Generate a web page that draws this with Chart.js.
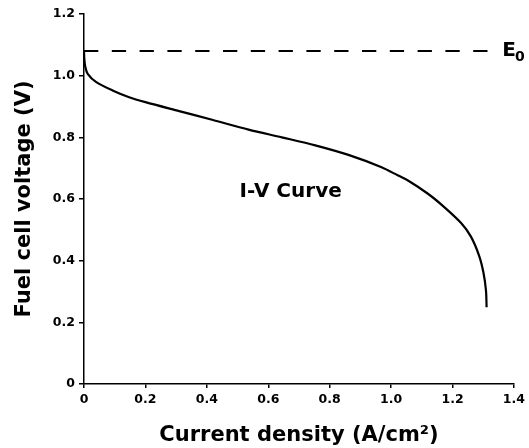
<!DOCTYPE html>
<html>
<head>
<meta charset="utf-8">
<script src="https://cdn.jsdelivr.net/npm/chart.js@4/dist/chart.umd.min.js"></script>
<style>
  html, body { margin: 0; padding: 0; background: #fff; }
  #wrap { width: 529px; height: 448px; }
</style>
</head>
<body>
<div id="wrap"><canvas id="c" width="529" height="448"></canvas></div>
<script>
// I-V curve
const current = [0, 0.001, 0.004, 0.012, 0.04, 0.093, 0.147, 0.2, 0.31, 0.417, 0.536, 0.644, 0.753, 0.861, 0.969, 1.023, 1.055, 1.12, 1.174, 1.228, 1.26, 1.287, 1.301, 1.309, 1.311];
const voltage = [1.08, 1.055, 1.03, 1.006, 0.979, 0.952, 0.93, 0.914, 0.885, 0.857, 0.825, 0.80, 0.774, 0.743, 0.703, 0.676, 0.66, 0.617, 0.573, 0.522, 0.478, 0.415, 0.36, 0.303, 0.249];
// open-circuit voltage line
const e0Current = [0, 1.33];
const e0Voltage = [1.08, 1.08];
const xTicks = [0, 0.2, 0.4, 0.6, 0.8, 1.0, 1.2, 1.4];
const yTicks = [0, 0.2, 0.4, 0.6, 0.8, 1.0, 1.2];

const FONT = "'DejaVu Sans', sans-serif";
const fmt = v => v === 0 ? '0' : v.toFixed(1);

const labels = {
    id: 'labels',
    afterDatasetsDraw(chart) {
        const { ctx, scales: { x, y } } = chart;
        ctx.save();
        ctx.fillStyle = '#000';
        ctx.textBaseline = 'alphabetic';
        ctx.font = `bold 20px ${FONT}`;
        ctx.textAlign = 'center';
        ctx.fillText('I-V Curve', x.getPixelForValue(0.673), y.getPixelForValue(0.605));
        // E0 with subscript
        ctx.textAlign = 'left';
        const ex = x.getPixelForValue(1.362), ey = y.getPixelForValue(1.064);
        ctx.font = `bold 20px ${FONT}`;
        ctx.fillText('E', ex, ey);
        const w = ctx.measureText('E').width;
        ctx.font = `bold 14px ${FONT}`;
        ctx.fillText('0', ex + w - 1, ey + 5);
        ctx.restore();
    }
};

new Chart(document.getElementById('c'), {
    type: 'line',
    data: {
        datasets: [
            {
                data: current.map((c, i) => ({ x: c, y: voltage[i] })),
                borderColor: '#000',
                borderWidth: 2.2,
                pointRadius: 0,
                tension: 0.3,
                fill: false
            },
            {
                data: e0Current.map((c, i) => ({ x: c, y: e0Voltage[i] })),
                borderColor: '#000',
                borderWidth: 2,
                borderDash: [14.3, 13.5],
                pointRadius: 0,
                fill: false
            }
        ]
    },
    options: {
        responsive: false,
        animation: false,
        layout: { padding: { left: 0, right: 12, top: 14, bottom: 0 } },
        plugins: { legend: { display: false }, tooltip: { enabled: false } },
        scales: {
            x: {
                type: 'linear', min: 0, max: 1.4,
                afterBuildTicks: s => { s.ticks = xTicks.map(v => ({ value: v })); },
                afterFit: s => { s.height = 64; },
                grid: { drawOnChartArea: false, tickLength: 4, color: '#000', lineWidth: 1.5 },
                border: { color: '#000', width: 1.5 },
                ticks: { color: '#000', font: { family: FONT, size: 12.5, weight: 'bold' }, padding: 4, maxRotation: 0, callback: fmt },
                title: { display: true, text: 'Current density (A/cm²)', color: '#000', font: { family: FONT, size: 21, weight: 'bold', lineHeight: 1.2 }, padding: { top: 0, bottom: 0 } }
            },
            y: {
                type: 'linear', min: 0, max: 1.2,
                afterBuildTicks: s => { s.ticks = yTicks.map(v => ({ value: v })); },
                afterFit: s => { s.width = 84; },
                grid: { drawOnChartArea: false, tickLength: 5, color: '#000', lineWidth: 1.5 },
                border: { color: '#000', width: 1.5 },
                ticks: { color: '#000', font: { family: FONT, size: 12.5, weight: 'bold' }, padding: 4, callback: fmt },
                title: { display: true, text: 'Fuel cell voltage (V)', color: '#000', font: { family: FONT, size: 21, weight: 'bold', lineHeight: 1.2 }, padding: { top: 12, bottom: 0 } }
            }
        }
    },
    plugins: [labels]
});
</script>
</body>
</html>
